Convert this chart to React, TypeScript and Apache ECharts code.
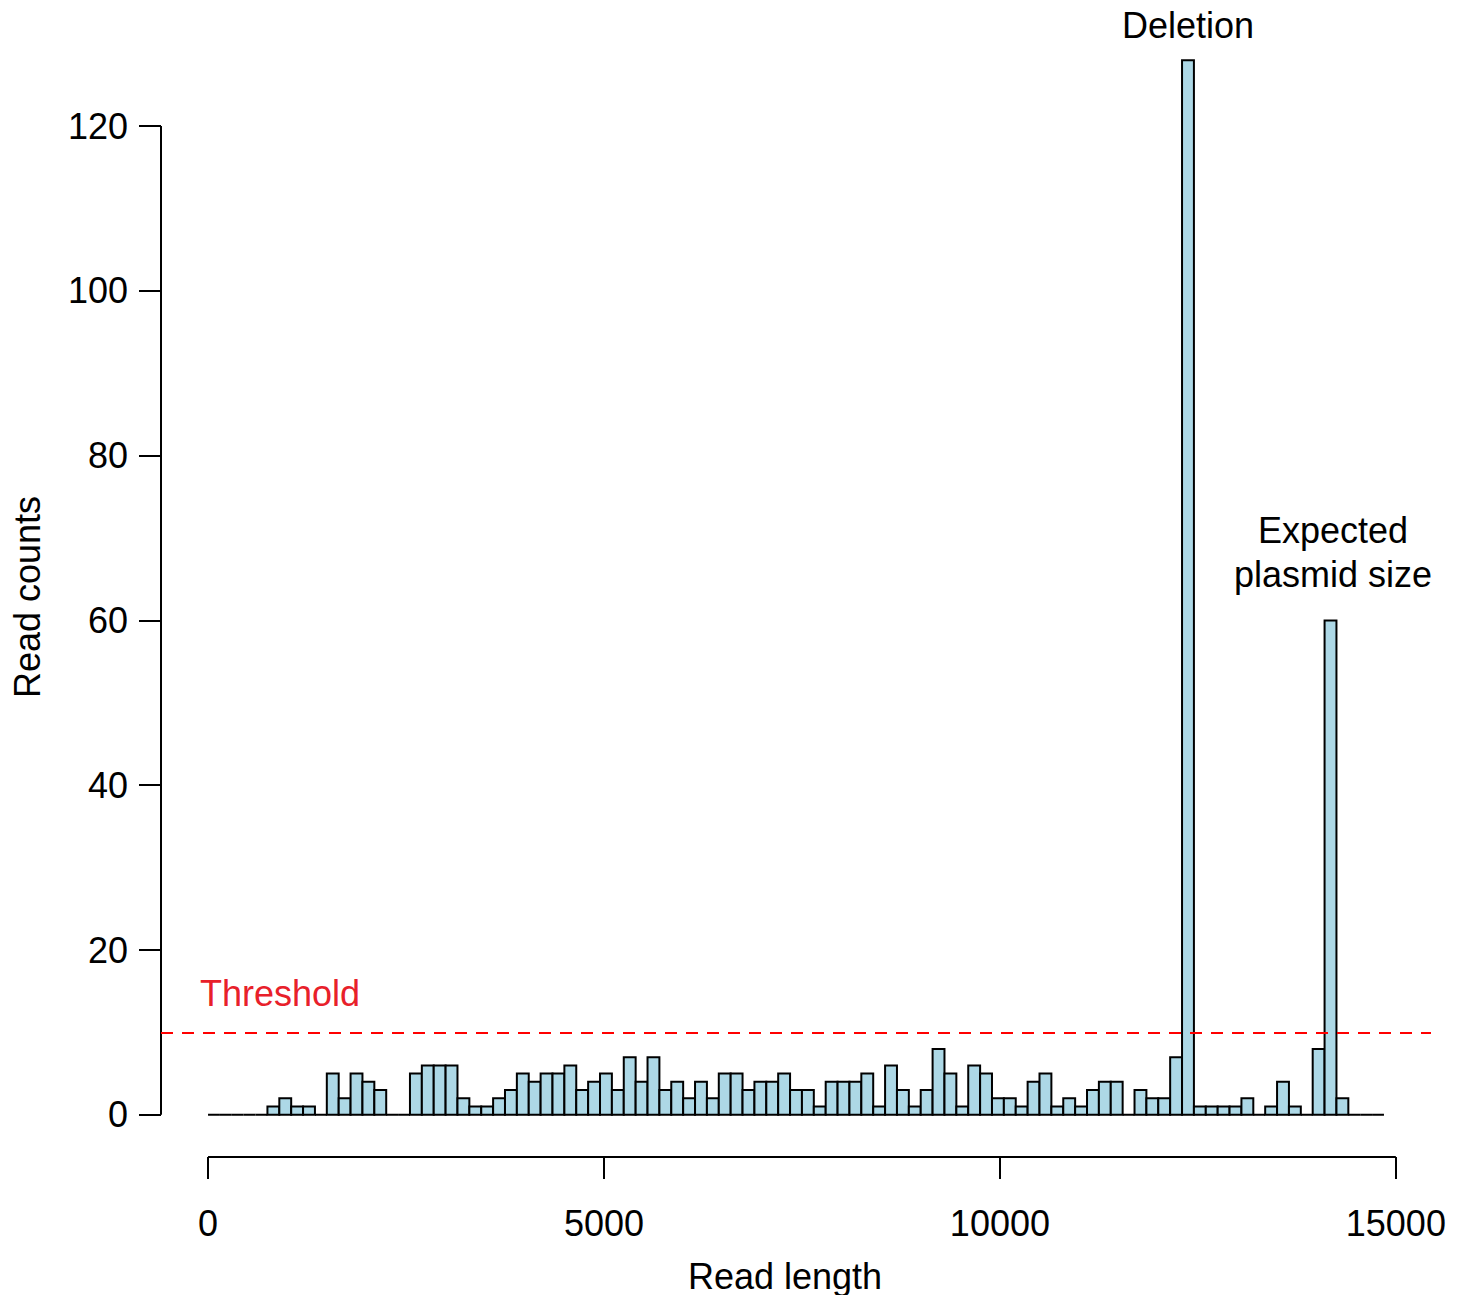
import React, { useEffect, useRef } from "react";
import * as echarts from "echarts";

// Histogram of read lengths, bins of 150 starting at 0
const binWidth = 150;
const counts = [
  0, 0, 0, 0, 0, 1, 2, 1, 1, 0,
  5, 2, 5, 4, 3, 0, 0, 5, 6, 6,
  6, 2, 1, 1, 2, 3, 5, 4, 5, 5,
  6, 3, 4, 5, 3, 7, 4, 7, 3, 4,
  2, 4, 2, 5, 5, 3, 4, 4, 5, 3,
  3, 1, 4, 4, 4, 5, 1, 6, 3, 1,
  3, 8, 5, 1, 6, 5, 2, 2, 1, 4,
  5, 1, 2, 1, 3, 4, 4, 0, 3, 2,
  2, 7, 128, 1, 1, 1, 1, 2, 0, 1,
  4, 1, 0, 8, 60, 2, 0, 0, 0,
];
const xTicks = [0, 5000, 10000, 15000];
const yTicks = [0, 20, 40, 60, 80, 100, 120];
const threshold = 10;
const xRange = [-594, 15444];
const yRange = [-5.12, 133.12];

const FONT = "Liberation Sans, Arial, Helvetica, sans-serif";

export default function App() {
  const ref = useRef<HTMLDivElement>(null);
  useEffect(() => {
    if (!ref.current) return;
    const chart = echarts.init(ref.current, null, { renderer: "svg" });
    const binData = counts.map((c, i) => [i * binWidth, (i + 1) * binWidth, c]);
    const option = {
      animation: false,
      backgroundColor: "#ffffff",
      grid: { left: 161, right: 32, top: 18, bottom: 138 },
      xAxis: {
        type: "value",
        min: xRange[0],
        max: xRange[1],
        splitLine: { show: false },
        axisLine: { show: false, onZero: false },
        axisTick: {
          show: true,
          customValues: xTicks,
          length: 22,
          inside: false,
          lineStyle: { color: "#000", width: 2 },
        },
        axisLabel: {
          show: true,
          customValues: xTicks,
          formatter: (v: number) => String(v),
          margin: 48,
          fontSize: 36,
          fontFamily: FONT,
          color: "#000",
        },
      },
      yAxis: {
        type: "value",
        min: yRange[0],
        max: yRange[1],
        splitLine: { show: false },
        axisLine: { show: false, onZero: false },
        axisTick: {
          show: true,
          customValues: yTicks,
          length: 22,
          inside: false,
          lineStyle: { color: "#000", width: 2 },
        },
        axisLabel: {
          show: true,
          customValues: yTicks,
          formatter: (v: number) => String(v),
          margin: 33,
          fontSize: 36,
          fontFamily: FONT,
          color: "#000",
        },
      },
      series: [
        {
          type: "custom",
          data: binData,
          encode: { x: [0, 1], y: 2 },
          silent: true,
          renderItem: (params: any, api: any) => {
            const x0 = api.value(0);
            const x1 = api.value(1);
            const c = api.value(2);
            const p0 = api.coord([x0, c]);
            const p1 = api.coord([x1, 0]);
            return {
              type: "rect",
              shape: { x: p0[0], y: p0[1], width: p1[0] - p0[0], height: p1[1] - p0[1] },
              style: { fill: "#ADD8E6", stroke: "#000", lineWidth: 2 },
            };
          },
          markLine: {
            silent: true,
            symbol: "none",
            label: { show: false },
            lineStyle: { color: "#FF0000", width: 2, type: [12, 9] },
            data: [{ yAxis: threshold }],
          },
        },
        {
          type: "line",
          silent: true,
          symbol: "none",
          lineStyle: { color: "#000", width: 2 },
          data: [
            [xTicks[0], yRange[0]],
            [xTicks[xTicks.length - 1], yRange[0]],
          ],
        },
        {
          type: "line",
          silent: true,
          symbol: "none",
          lineStyle: { color: "#000", width: 2 },
          data: [
            [xRange[0], yTicks[0]],
            [xRange[0], yTicks[yTicks.length - 1]],
          ],
        },
      ],
      graphic: [
        {
          type: "text",
          x: 1188,
          y: 25,
          style: {
            text: "Deletion",
            fontSize: 36,
            fontFamily: FONT,
            fill: "#000",
            textAlign: "center",
            textVerticalAlign: "middle",
          },
        },
        {
          type: "text",
          x: 1333,
          y: 552,
          style: {
            text: "Expected\nplasmid size",
            fontSize: 36,
            lineHeight: 44,
            fontFamily: FONT,
            fill: "#000",
            textAlign: "center",
            textVerticalAlign: "middle",
          },
        },
        {
          type: "text",
          x: 200,
          y: 993,
          style: {
            text: "Threshold",
            fontSize: 36,
            fontFamily: FONT,
            fill: "#E8202A",
            textAlign: "left",
            textVerticalAlign: "middle",
          },
        },
        {
          type: "text",
          x: 785,
          y: 1276,
          style: {
            text: "Read length",
            fontSize: 36,
            fontFamily: FONT,
            fill: "#000",
            textAlign: "center",
            textVerticalAlign: "middle",
          },
        },
        {
          type: "text",
          x: 27,
          y: 597,
          rotation: Math.PI / 2,
          style: {
            text: "Read counts",
            fontSize: 36,
            fontFamily: FONT,
            fill: "#000",
            textAlign: "center",
            textVerticalAlign: "middle",
          },
        },
      ],
    };
    chart.setOption(option as any);
    return () => chart.dispose();
  }, []);
  return (
    <div
      ref={ref}
      style={{ position: "absolute", left: 0, top: 0, width: 1463, height: 1295 }}
    />
  );
}
